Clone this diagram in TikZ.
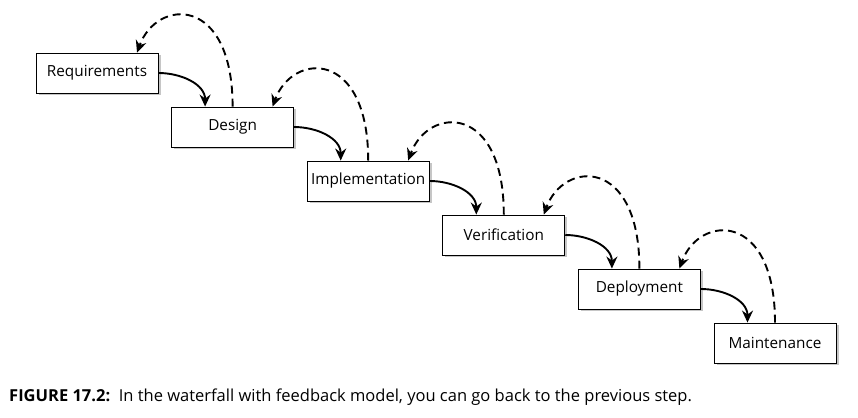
\documentclass[tikz,border=0pt]{standalone}
\usepackage{fontspec}
\setmainfont{Open Sans}
\usetikzlibrary{arrows.meta,shadows}

\tikzset{
  stepbox/.style={draw, line width=0.9pt, fill=white, minimum width=122pt,
    minimum height=40pt, inner sep=0pt, font=\fontsize{15.3}{18}\selectfont,
    drop shadow={shadow xshift=2.5pt, shadow yshift=-2.5pt, opacity=0.45}},
  flow/.style={line width=1.9pt, -{Stealth[length=12pt,width=11pt,inset=4pt]}},
  back/.style={flow, dash pattern=on 8pt off 5pt}
}

\begin{document}
\begin{tikzpicture}[x=1pt,y=1pt]

  % page frame
  \useasboundingbox (0,0) rectangle (858,417);

  % steps of the waterfall
  \foreach \name/\txt [count=\i from 0] in {req/Requirements, des/Design,
      imp/Implementation, ver/Verification, dep/Deployment, mnt/Maintenance} {
    \node[stepbox] (\name) at (97+135.6*\i, 344-54*\i) {\txt};
  }

  % forward and feedback arrows
  \foreach \a/\b in {req/des, des/imp, imp/ver, ver/dep, dep/mnt} {
    \draw[flow] (\a.east) to[out=0, in=90] ([xshift=-27.5pt]\b.north);
    \draw[back] (\b.north) to[out=90, in=70, out distance=112pt, in distance=58pt]
      ([xshift=40pt]\a.north);
  }

  % caption
  \node[anchor=west, inner sep=0pt, font=\fontsize{16.5}{19}\selectfont] (cap) at (9,20)
    {\textbf{FIGURE 17.2:}\ \ In the waterfall with feedback model, you can go back to the previous step.};

\end{tikzpicture}
\end{document}
